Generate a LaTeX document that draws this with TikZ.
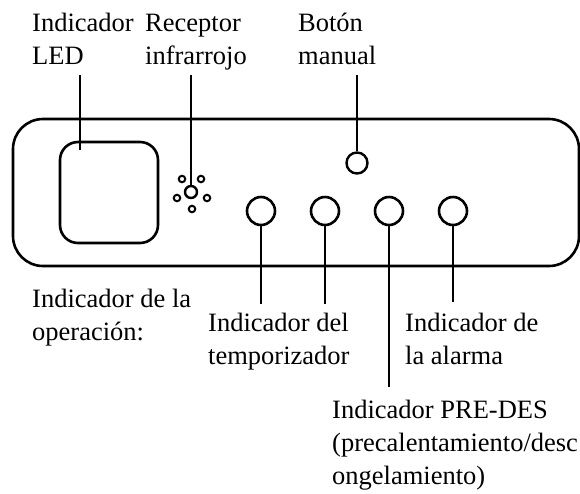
\documentclass[tikz,border=0pt]{standalone}
\usepackage{fontspec}
\setmainfont{Liberation Serif}
\begin{document}
\begin{tikzpicture}[x=1pt,y=-1pt,
  part/.style={draw=black,line width=2.6pt},
  led/.style={draw=black,line width=2.6pt,circle,minimum size=28pt,inner sep=0pt},
  dot/.style={draw=black,line width=2pt,circle,minimum size=6.5pt,inner sep=0pt},
  lead/.style={draw=black,line width=2.6pt},
  lbl/.style={font=\fontsize{26.5}{33}\selectfont,align=left,inner sep=0pt,anchor=base west}]
\useasboundingbox (0,0) rectangle (580,493);
% panel
\draw[part,rounded corners=30pt] (13,119) rectangle (579,266);
\draw[part,rounded corners=18pt] (60,142) rectangle (158,243);
\coordinate (ledin) at (80,150);
% IR receiver
\node[draw=black,line width=2.4pt,circle,minimum size=12pt,inner sep=0pt] (ir) at (191,192) {};
\node[dot] (d1) at (182,179) {};
\node[dot] (d2) at (201,179) {};
\node[dot] (d3) at (177,198) {};
\node[dot] (d4) at (207,198) {};
\node[dot] (d5) at (192,209) {};
% manual button
\node[draw=black,line width=2.4pt,circle,minimum size=21pt,inner sep=0pt] (btn) at (357,163) {};
% indicators
\node[led] (op) at (261,211) {};
\node[led] (tm) at (325,211) {};
\node[led] (pre) at (389,211) {};
\node[led] (al) at (453,211) {};
% leader ends
\coordinate (t1) at (80,75);
\coordinate (t2) at (191,75);
\coordinate (t3) at (357,75);
\coordinate (b1) at (261,304);
\coordinate (b2) at (325,304);
\coordinate (b3) at (389,387);
\coordinate (b4) at (453,302);
\draw[lead] (t1) -- (ledin);
\draw[lead] (t2) -- (ir.north);
\draw[lead] (t3) -- (btn.north);
\draw[lead] (op.south) -- (b1);
\draw[lead] (tm.south) -- (b2);
\draw[lead] (pre.south) -- (b3);
\draw[lead] (al.south) -- (b4);
% labels (anchor = baseline of last line)
\node[lbl] (lled) at (32,64) {Indicador\\LED};
\node[lbl] (lir) at (145,64) {Receptor\\infrarrojo};
\node[lbl] (lbtn) at (298,64) {Botón\\manual};
\node[lbl] (lop) at (32,340) {Indicador de la\\operación:};
\node[lbl] (ltm) at (208,364) {Indicador del\\temporizador};
\node[lbl] (lal) at (405,364) {Indicador de\\la alarma};
\node[lbl] (lpre) at (332,484) {Indicador PRE-DES\\(precalentamiento/desc\\ongelamiento)};
\end{tikzpicture}
\end{document}
